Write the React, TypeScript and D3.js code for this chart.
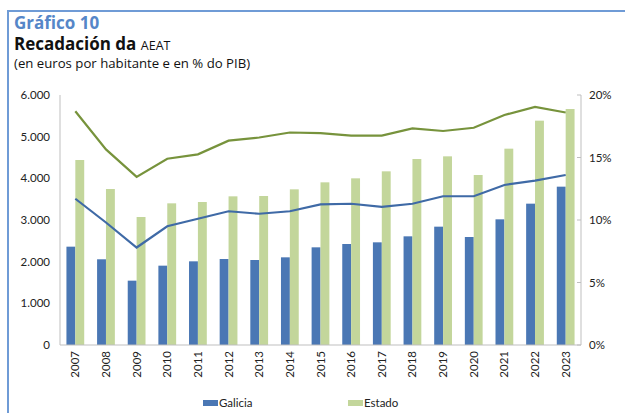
import React, { useEffect, useRef } from "react";
import * as d3 from "d3";

const years = [
  "2007", "2008", "2009", "2010", "2011", "2012", "2013", "2014", "2015",
  "2016", "2017", "2018", "2019", "2020", "2021", "2022", "2023",
];
// euros por habitante
const galiciaEuros = [2360, 2057, 1544, 1904, 2008, 2064, 2040, 2104, 2344, 2424, 2464, 2608, 2840, 2592, 3016, 3392, 3800];
const estadoEuros = [4440, 3744, 3072, 3400, 3432, 3568, 3576, 3736, 3904, 4000, 4168, 4464, 4528, 4080, 4712, 5384, 5664];
// % do PIB
const galiciaPib = [11.7, 9.8, 7.8, 9.5, 10.1, 10.7, 10.5, 10.7, 11.25, 11.3, 11.05, 11.3, 11.9, 11.9, 12.8, 13.15, 13.6];
const estadoPib = [18.7, 15.65, 13.45, 14.9, 15.25, 16.35, 16.6, 17.0, 16.95, 16.75, 16.75, 17.33, 17.12, 17.38, 18.4, 19.05, 18.6];

const leftTicks = [0, 1000, 2000, 3000, 4000, 5000, 6000];
const rightTicks = [0, 5, 10, 15, 20];

const font = "Lato, 'Open Sans', sans-serif";
const titleFont = "'Open Sans', sans-serif";

const App = () => {
  const ref = useRef<SVGSVGElement>(null);

  useEffect(() => {
    const svg = d3.select(ref.current);
    svg.selectAll("*").remove();

    const W = 625;
    const H = 413;
    const m = { left: 60, right: 44, top: 95, bottom: 68 };
    const iw = W - m.left - m.right;
    const ih = H - m.top - m.bottom;

    // frame
    svg.append("line").attr("x1", 8).attr("x2", W).attr("y1", 11).attr("y2", 11)
      .attr("stroke", "#6f9bd6").attr("stroke-width", 2);
    svg.append("line").attr("x1", 8).attr("x2", 8).attr("y1", 10).attr("y2", H)
      .attr("stroke", "#6f9bd6").attr("stroke-width", 2);

    // titles
    svg.append("text").attr("x", 14).attr("y", 29).text("Gráfico 10")
      .style("font-family", titleFont).style("font-weight", "bold").style("font-size", "17px")
      .attr("fill", "#5586c8");
    const t = svg.append("text").attr("x", 14).attr("y", 50)
      .style("font-family", titleFont).style("font-weight", "bold").attr("fill", "#111");
    t.append("tspan").text("Recadación da ").style("font-size", "17px");
    t.append("tspan").text("AEAT").style("font-size", "12.5px").style("font-weight", "normal");
    svg.append("text").attr("x", 14).attr("y", 68).text("(en euros por habitante e en % do PIB)")
      .style("font-family", titleFont).style("font-size", "13.2px").attr("fill", "#111");

    const g = svg.append("g").attr("transform", `translate(${m.left},${m.top})`);

    const x = d3.scaleBand().domain(years).range([0, iw]).paddingInner(0.42).paddingOuter(0.21);
    const x1 = d3.scaleBand().domain(["g", "e"]).range([0, x.bandwidth()]);
    const yL = d3.scaleLinear().domain([0, 6000]).range([ih, 0]);
    const yR = d3.scaleLinear().domain([0, 20]).range([ih, 0]);
    const cx = (d: string) => (x(d) as number) + x.bandwidth() / 2;

    // bars
    const groups = g.selectAll(".yr").data(years).enter().append("g")
      .attr("transform", (d) => `translate(${x(d)},0)`);
    groups.append("rect")
      .attr("x", x1("g") as number).attr("width", x1.bandwidth())
      .attr("y", (d, i) => yL(galiciaEuros[i])).attr("height", (d, i) => ih - yL(galiciaEuros[i]))
      .attr("fill", "#4a77b4");
    groups.append("rect")
      .attr("x", x1("e") as number).attr("width", x1.bandwidth())
      .attr("y", (d, i) => yL(estadoEuros[i])).attr("height", (d, i) => ih - yL(estadoEuros[i]))
      .attr("fill", "#c3d69b");

    // lines
    const line = d3.line<number>().x((d, i) => cx(years[i])).y((d) => yR(d));
    g.append("path").datum(estadoPib).attr("d", line).attr("fill", "none")
      .attr("stroke", "#77933c").attr("stroke-width", 2.2);
    g.append("path").datum(galiciaPib).attr("d", line).attr("fill", "none")
      .attr("stroke", "#3f6aa6").attr("stroke-width", 2.2);

    // axes
    const axisColor = "#bfbfbf";
    g.append("line").attr("x1", 0).attr("x2", 0).attr("y1", 0).attr("y2", ih).attr("stroke", axisColor);
    g.append("line").attr("x1", 0).attr("x2", iw).attr("y1", ih).attr("y2", ih).attr("stroke", axisColor);
    g.append("line").attr("x1", iw).attr("x2", iw).attr("y1", 0).attr("y2", ih).attr("stroke", axisColor);

    g.selectAll(".lt").data(leftTicks).enter().append("text")
      .attr("x", -10).attr("y", (d) => yL(d)).attr("dy", "0.35em").attr("text-anchor", "end")
      .text((d) => (d === 0 ? "0" : d3.format(",")(d).replace(/,/g, ".")))
      .style("font-family", font).style("font-size", "11.5px").attr("fill", "#222");

    g.selectAll(".rtk").data(rightTicks).enter().append("line")
      .attr("x1", iw - 4).attr("x2", iw).attr("y1", (d) => yR(d)).attr("y2", (d) => yR(d))
      .attr("stroke", axisColor);
    g.selectAll(".rt").data(rightTicks).enter().append("text")
      .attr("x", iw + 8).attr("y", (d) => yR(d)).attr("dy", "0.35em")
      .text((d) => `${d}%`)
      .style("font-family", font).style("font-size", "11.5px").attr("fill", "#222");

    g.selectAll(".xt").data(years).enter().append("text")
      .attr("transform", (d) => `translate(${cx(d)},${ih + 6}) rotate(-90)`)
      .attr("text-anchor", "end").attr("dy", "0.35em")
      .text((d) => d)
      .style("font-family", font).style("font-size", "11.5px").attr("fill", "#222");

    // legend
    const legend = [
      { label: "Galicia", color: "#4a77b4", x: 203 },
      { label: "Estado", color: "#c3d69b", x: 348 },
    ];
    const lg = svg.selectAll(".lg").data(legend).enter().append("g")
      .attr("transform", (d) => `translate(${d.x},403)`);
    lg.append("rect").attr("x", 0).attr("y", -3).attr("width", 15).attr("height", 6).attr("fill", (d) => d.color);
    lg.append("text").attr("x", 16).attr("dy", "0.35em").text((d) => d.label)
      .style("font-family", font).style("font-size", "11.5px").attr("fill", "#222");
  }, []);

  return (
    <svg ref={ref} width={625} height={413}
      style={{ position: "absolute", left: 0, top: 0, background: "#fff" }} />
  );
};

export default App;
